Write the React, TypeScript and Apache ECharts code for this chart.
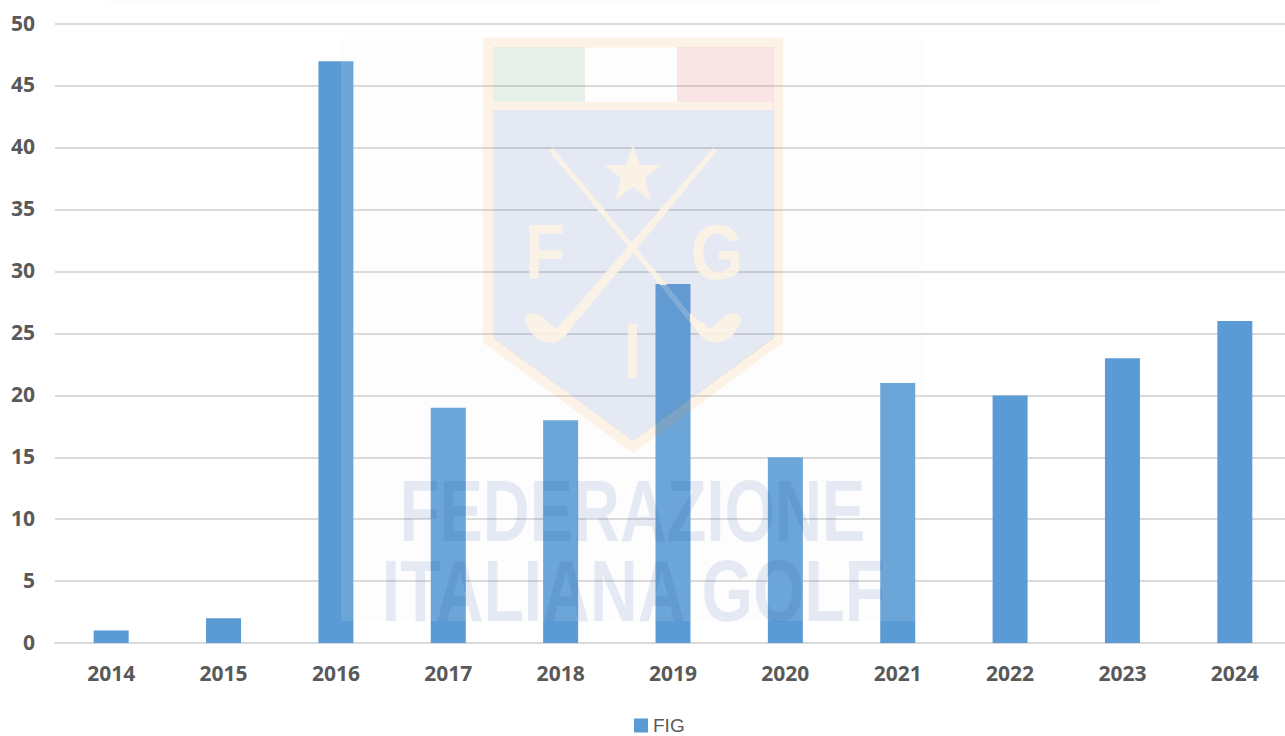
import React, { useEffect, useRef } from "react";
import * as echarts from "echarts";

const years = ["2014", "2015", "2016", "2017", "2018", "2019", "2020", "2021", "2022", "2023", "2024"];
const figValues = [1, 2, 47, 19, 18, 29, 15, 21, 20, 23, 26];
const seriesName = "FIG";
const watermarkLines = ["FEDERAZIONE", "ITALIANA GOLF"];

const CREAM_OPAQUE = "rgba(253,243,229,0.88)";
const CREAM_SOFT = "rgba(245,160,40,0.115)";
const NAVY_SOFT = "rgba(10,55,160,0.1)";
const FONT = "Open Sans";

function head(mirror: boolean) {
  const pts = [
    [556, 329], [551, 325], [546, 320], [540, 315], [534, 313], [528, 314], [525, 318], [526, 324],
    [530, 331], [536, 338], [544, 342], [552, 343], [559, 341], [565, 336], [571, 329], [563, 322],
  ];
  return {
    type: "polygon",
    z: 103,
    shape: { points: pts.map(([x, y]) => [mirror ? 1266 - x : x, y]) },
    style: { fill: CREAM_OPAQUE },
  };
}

function watermark() {
  return [
    { type: "rect", z: 100, shape: { x: 105, y: 0, width: 1055, height: 5 }, style: { fill: "#fdfdfd" } },
    { type: "rect", z: 100, shape: { x: 341, y: 38, width: 582, height: 583 }, style: { fill: "rgba(240,240,240,0.12)" } },
    // flag and panel
    { type: "rect", z: 101, shape: { x: 493, y: 47, width: 92, height: 55 }, style: { fill: "rgba(40,140,70,0.1)" } },
    { type: "rect", z: 101, shape: { x: 677, y: 47, width: 97, height: 55 }, style: { fill: "rgba(215,30,45,0.11)" } },
    { type: "rect", z: 101, shape: { x: 493, y: 102, width: 281, height: 8 }, style: { fill: CREAM_SOFT } },
    {
      type: "polygon",
      z: 101,
      shape: { points: [[493, 110], [774, 110], [774, 338], [633, 441], [493, 338]] },
      style: { fill: NAVY_SOFT },
    },
    {
      type: "polygon",
      z: 102,
      shape: { points: [[488, 42.5], [778, 42.5], [778, 340], [633, 447], [488, 340]] },
      style: { fill: "transparent", stroke: CREAM_SOFT, lineWidth: 10, lineJoin: "miter" },
    },
    // star
    {
      type: "polygon",
      z: 103,
      shape: {
        points: [[633, 145], [640, 165], [662, 165], [645, 178], [651, 201], [633, 187], [615, 201], [621, 178], [604, 165], [626, 165]],
      },
      style: { fill: CREAM_OPAQUE },
    },
    // left club (upper right to lower left)
    {
      type: "polygon",
      z: 103,
      shape: { points: [[713, 148], [717, 151], [565, 336], [556, 330]] },
      style: { fill: CREAM_OPAQUE },
    },
    // right club, split where it crosses the 2019 bar
    {
      type: "polygon",
      z: 103,
      shape: { points: [[549, 151], [553, 148], [667, 285], [660, 285]] },
      style: { fill: CREAM_OPAQUE },
    },
    {
      type: "polygon",
      z: 103,
      shape: { points: [[660, 285], [667, 285], [690, 314], [690, 323]] },
      style: { fill: "rgba(253,243,229,0.2)" },
    },
    {
      type: "polygon",
      z: 103,
      shape: { points: [[690, 313], [710, 330], [701, 336], [690, 322]] },
      style: { fill: CREAM_OPAQUE },
    },
    head(false),
    head(true),
    {
      type: "text",
      z: 104,
      x: 545,
      y: 252,
      scaleX: 0.85,
      style: { text: "F", font: "bold 77px 'Liberation Sans'", fill: CREAM_OPAQUE, textAlign: "center", textVerticalAlign: "middle" },
    },
    {
      type: "text",
      z: 104,
      x: 717,
      y: 252,
      scaleX: 0.88,
      style: { text: "G", font: "bold 77px 'Liberation Sans'", fill: CREAM_OPAQUE, textAlign: "center", textVerticalAlign: "middle" },
    },
    {
      type: "text",
      z: 104,
      x: 632.5,
      y: 351,
      scaleX: 0.8,
      style: { text: "I", font: "bold 77px 'Liberation Sans'", fill: CREAM_OPAQUE, textAlign: "center", textVerticalAlign: "middle" },
    },
    {
      type: "text",
      z: 105,
      x: 632.5,
      y: 510,
      scaleX: 0.738,
      style: { text: watermarkLines[0], font: "bold 88px 'Liberation Sans'", fill: NAVY_SOFT, textAlign: "center", textVerticalAlign: "middle" },
    },
    {
      type: "text",
      z: 105,
      x: 633.5,
      y: 590,
      scaleX: 0.752,
      style: { text: watermarkLines[1], font: "bold 88px 'Liberation Sans'", fill: NAVY_SOFT, textAlign: "center", textVerticalAlign: "middle" },
    },
  ];
}

export default function App() {
  const ref = useRef<HTMLDivElement | null>(null);
  useEffect(() => {
    if (!ref.current) return;
    const chart = echarts.init(ref.current, undefined, { renderer: "svg" });
    chart.setOption({
      animation: false,
      backgroundColor: "#ffffff",
      grid: { left: 55, top: 24, width: 1236, height: 619, containLabel: false },
      legend: {
        show: true,
        left: 634,
        top: 716,
        icon: "rect",
        itemWidth: 14,
        itemHeight: 14,
        itemGap: 6,
        padding: 0,
        textStyle: { color: "#595959", fontFamily: "Liberation Sans", fontSize: 19 },
      },
      xAxis: {
        type: "category",
        data: years,
        axisLine: { show: true, lineStyle: { color: "#d9d9d9", width: 2 } },
        axisTick: { show: false },
        axisLabel: { color: "#595959", fontFamily: FONT, fontWeight: "bold", fontSize: 21, margin: 19 },
      },
      yAxis: {
        type: "value",
        min: 0,
        max: 50,
        interval: 5,
        axisLine: { show: false },
        axisTick: { show: false },
        splitLine: { show: true, lineStyle: { color: "#d9d9d9", width: 2 } },
        axisLabel: { color: "#595959", fontFamily: FONT, fontWeight: "bold", fontSize: 21, margin: 20, verticalAlign: "bottom", lineHeight: 3 },
      },
      series: [
        {
          name: seriesName,
          type: "bar",
          data: figValues,
          barWidth: 35,
          itemStyle: { color: "#5b9bd5" },
        },
      ],
      graphic: { elements: watermark() },
    });
    return () => chart.dispose();
  }, []);
  return (
    <div style={{ position: "absolute", left: 0, top: 0, width: 1285, height: 736, overflow: "hidden" }}>
      <div ref={ref} style={{ width: 1291, height: 736 }} />
    </div>
  );
}
